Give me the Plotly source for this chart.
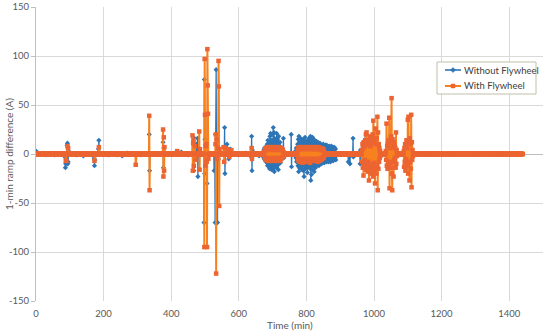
import plotly.graph_objects as go

N_MIN = 1440
time_min = list(range(N_MIN + 1))

# ---- Without Flywheel: isolated non-zero readings (minute: A) ----
without_points = {
    0: 3, 30: -1, 55: -1, 86: -3, 87: -14, 88: -10, 89: -5, 92: 9, 93: 11, 94: -10, 95: -8, 96: 3,
    120: -1, 140: -2, 172: -4, 173: -12, 174: -6, 185: 5, 186: 14, 187: 2, 215: -1, 240: -1,
    255: -2, 270: 1, 310: -1, 335: 20, 336: -17, 376: 12, 377: -14, 378: 6, 410: 1, 430: 2,
    450: -1, 466: 17, 467: -17, 475: 10, 478: 16, 479: -23,
    497: -70, 498: 76, 499: -20, 500: 15, 501: -8, 505: 12, 506: -30, 507: 40, 508: -5,
    527: -17, 530: -70, 531: 20, 532: -5, 533: 86, 534: -10, 537: -70, 538: 12, 540: -5,
    558: 27, 559: -20, 565: 10, 570: -5, 575: 5, 600: -1, 620: 1,
    637: -3, 638: 18, 639: -17, 640: 4, 660: -2,
    732: 16, 733: -4, 755: 20, 756: -13,
    924: -8, 929: -10, 938: 16, 939: -3, 959: -10, 960: 4,
}
# runs of consecutive minutes (start minute: readings)
without_runs = {
    672: [2, -3, 4, -5, 6, -4, 3, -7, 5, -6, 8, -9, 10, -12, 14, -8, 6, -10, 12, -15,
          18, -14, 21, -12, 9, -16, 14, -10, 20, -13, 27, -15, 22, -18, 16, -11, 13, -9, 10, -14,
          21, -12, 15, -8, 11, -16, 18, -10, 8, -6, 12, -9, 7, -5, 4, -3, 6, -4, 3, -2],
    768: [3, -4, 6, -8, 5, -7, 10, -12, 15, -18, 18, -14, 12, -10, 16, -13, 9, -11, 14, -16,
          12, -9, 15, -17, 10, -23, 13, -12, 17, -15, 11, -14, 8, -10, 12, -19, 14, -11, 9, -13,
          16, -12, 10, -15, 18, -27, 14, -21, 11, -16, 17, -13, 9, -12, 15, -18, 12, -10, 8, -14,
          11, -9, 13, -11, 10, -8, 12, -10, 9, -12, 7, -9, 11, -8, 10, -7, 8, -10, 9, -6,
          8, -7, 10, -8, 6, -9, 8, -7, 9, -6, 7, -8, 9, -6, 8, -7, 6, -8, 7, -5,
          8, -6, 7, -8, 6, -7, 8, -5, 7, -6, 6, -7, 5, -6, 7, -5, 6, -4, 5, -6],
    966: [5, -8, 12, -10, 6, -14, 9, -6, 15, -12, 8, -10, 14, -16, 10, -7, 12, -9, 6, -11,
          13, -8, 10, -15, 7, -9, 11, -6, 8, -10, 12, -14, 9, -7, 16, -12, 8, -10, 6, -4],
    1040: [6, -10, 12, -8, 14, -15, 9, -7, 18, -12, 10, -9, 8, -6, 12, -5],
    1095: [5, -9, 12, -7, 10, -14, 8, -6, 13, -10, 4, -3],
}

# ---- With Flywheel ----
with_points = {
    88: -7, 90: -7, 93: 8, 95: 6, 173: -7, 186: 7, 295: -11, 335: 39, 336: -37,
    376: 25, 377: -23, 378: 17, 379: -17, 380: 7, 418: 3,
    463: 19, 464: -17, 465: 11, 466: 14, 467: -12, 470: 8, 472: -6, 483: 23, 484: -16, 485: 5,
    498: -95, 499: 97, 500: 40, 501: -12, 502: 8, 503: -6, 504: 10, 505: -8, 506: -95,
    507: 107, 508: 70, 509: 41, 510: -5,
    531: 10, 532: 20, 533: -122, 534: 15, 535: -5, 538: 6, 540: 95, 541: 69, 542: -53, 543: 5,
    555: 7, 557: -8, 560: 6, 566: 5, 572: -3, 578: 4, 638: 6, 639: -5,
}
with_runs = {
    676: [3, -4, 5, -6, 6, -5, 4, -6, 7, -5, 6, -7, 5, -6, 7, -4, 6, -7, 5, -6,
          7, -5, 6, -7, 4, -6, 7, -5, 6, -4, 5, -6, 7, -5, 6, -7, 4, -6, 5, -7,
          6, -5, 7, -4, 6, -6, 5, -7, 4, -5, 6, -4, 5, -3, 4, -3, 2, -2, 1, -1],
    774: [4, -5, 6, -7, 5, -6, 7, -8, 6, -5, 7, -6, 5, -7, 6, -9, 7, -5, 6, -7,
          5, -6, 7, -5, 6, -8, 5, -7, 6, -6, 7, -5, 6, -7, 5, -6, 7, -9, 6, -5,
          6, -7, 5, -6, 7, -5, 6, -7, 5, -6, 7, -6, 5, -7, 6, -5, 7, -6, 5, -8,
          6, -5, 7, -6, 5, -7, 6, -5, 4, -6, 5, -4, 6, -5, 4, -3, 5, -4, 3, -2],
    964: [4, -8, 10, -14, 6, -22, 12, -10, 8, -6, 14, -9, 20, -16, 22, -12, 9, -18, 14, -8,
          12, -27, 10, -15, 18, -12, 8, -20, 16, -10, 12, -14, 20, -23, 34, -18, 12, -9, 15, -30,
          26, -14, 10, -20, 16, -12, 38, -37, 22, -15, 10, -8, 6, -4, 3, -2],
    1035: [3, -6, 31, -12, 8, -15, 10, -8, 14, -10, 37, -35, 12, -9, 6, -14, 18, 57, -20, -37,
           15, -8, 10, -23, 12, -6, 8, -4, 6, -14, 22, -10, 4, -2],
    1088: [3, -13, 6, -8, 10, -17, 8, -5, 14, -10, 6, -12, 35, -20, 38, -9, 12, -27, 16, -8,
           10, -15, 40, -34, 12, -6, 4, -2],
}

series_names = ["Without Flywheel", "With Flywheel"]
x_ticks = [0, 200, 400, 600, 800, 1000, 1200, 1400]
y_ticks = [-150, -100, -50, 0, 50, 100, 150]


def build(points, runs):
    vals = [0] * (N_MIN + 1)
    for t, v in points.items():
        vals[t] = v
    for start, seq in runs.items():
        for i, v in enumerate(seq):
            vals[start + i] = v
    return vals


without_flywheel = build(without_points, without_runs)
with_flywheel = build(with_points, with_runs)

W, H = 550, 335
ML, MR, MT, MB = 36, 7, 7, 34
PW, PH = W - ML - MR, H - MT - MB

BLUE = "#2E75B6"
ORANGE_LINE = "#F7811F"
ORANGE_MARK = "#EC6431"
FONT = "Lato"
TXT = "#595959"


def px(xp):
    return (xp - ML) / PW


def py(yp):
    return (H - MB - yp) / PH


fig = go.Figure()
fig.add_trace(go.Scatter(
    x=time_min, y=without_flywheel, name=series_names[0], mode="lines+markers",
    line=dict(color=BLUE, width=1.3),
    marker=dict(symbol="diamond", size=4, color=BLUE),
    showlegend=False,
))
fig.add_trace(go.Scatter(
    x=time_min, y=with_flywheel, name=series_names[1], mode="lines+markers",
    line=dict(color=ORANGE_LINE, width=2),
    marker=dict(symbol="square", size=4.5, color=ORANGE_MARK),
    showlegend=False,
))

# ---- custom legend (box, samples, labels) ----
shapes = [dict(type="rect", xref="paper", yref="paper",
               x0=px(437), x1=px(536), y0=py(94), y1=py(62),
               line=dict(color="#BFBFAA", width=1), fillcolor="white", layer="above")]
annotations = []
rows = [(70, BLUE, "diamond"), (86, ORANGE_LINE, "square")]
for (yrow, col, sym), name in zip(rows, series_names):
    shapes.append(dict(type="line", xref="paper", yref="paper",
                       x0=px(445), x1=px(461), y0=py(yrow), y1=py(yrow),
                       line=dict(color=col, width=1.6 if sym == "diamond" else 2), layer="above"))
    if sym == "diamond":
        path = f"M {px(453)},{py(yrow-2.5)} L {px(455.5)},{py(yrow)} L {px(453)},{py(yrow+2.5)} L {px(450.5)},{py(yrow)} Z"
        shapes.append(dict(type="path", xref="paper", yref="paper", path=path,
                           fillcolor=col, line=dict(color=col, width=0.5), layer="above"))
    else:
        shapes.append(dict(type="rect", xref="paper", yref="paper",
                           x0=px(451), x1=px(455), y0=py(yrow + 2), y1=py(yrow - 2),
                           fillcolor=ORANGE_MARK, line=dict(color=ORANGE_MARK, width=0.5),
                           layer="above"))
    annotations.append(dict(xref="paper", yref="paper", x=px(462), y=py(yrow),
                            xanchor="left", yanchor="middle", showarrow=False,
                            text=name, font=dict(family=FONT, size=9.5, color="#404040")))

# axis titles
annotations.append(dict(xref="paper", yref="paper", x=px(290), y=py(325),
                        xanchor="center", yanchor="middle", showarrow=False,
                        text="Time (min)", font=dict(family=FONT, size=10, color=TXT)))
annotations.append(dict(xref="paper", yref="paper", x=px(9), y=py(154),
                        xanchor="center", yanchor="middle", showarrow=False, textangle=-90,
                        text="1-min ramp difference (A)", font=dict(family=FONT, size=10, color=TXT)))

fig.update_layout(
    width=W, height=H,
    margin=dict(l=ML, r=MR, t=MT, b=MB),
    plot_bgcolor="white", paper_bgcolor="white",
    font=dict(family=FONT, size=10, color=TXT),
    shapes=shapes, annotations=annotations,
    showlegend=False,
)
fig.update_xaxes(
    range=[0, 1500], tickvals=x_ticks, ticktext=[str(v) for v in x_ticks],
    showgrid=True, gridcolor="#D9D9D9", gridwidth=1, zeroline=False, showline=False,
    ticks="outside", ticklen=4, tickcolor="rgba(0,0,0,0)", automargin=False,
    tickfont=dict(family=FONT, size=9.5, color=TXT),
)
fig.update_yaxes(
    range=[-150, 150], tickvals=y_ticks, ticktext=[str(v) for v in y_ticks],
    showgrid=True, gridcolor="#D9D9D9", gridwidth=1,
    zeroline=True, zerolinecolor="#BFBFBF", zerolinewidth=1,
    showline=True, linecolor="#BFBFBF", linewidth=1,
    ticks="outside", ticklen=4, tickcolor="#BFBFBF", automargin=False,
    tickfont=dict(family=FONT, size=9.5, color=TXT),
)

fig.write_html(
    "out.html",
    config={"displayModeBar": False},
    post_script="document.body.style.margin='0';document.body.style.padding='0';",
)
